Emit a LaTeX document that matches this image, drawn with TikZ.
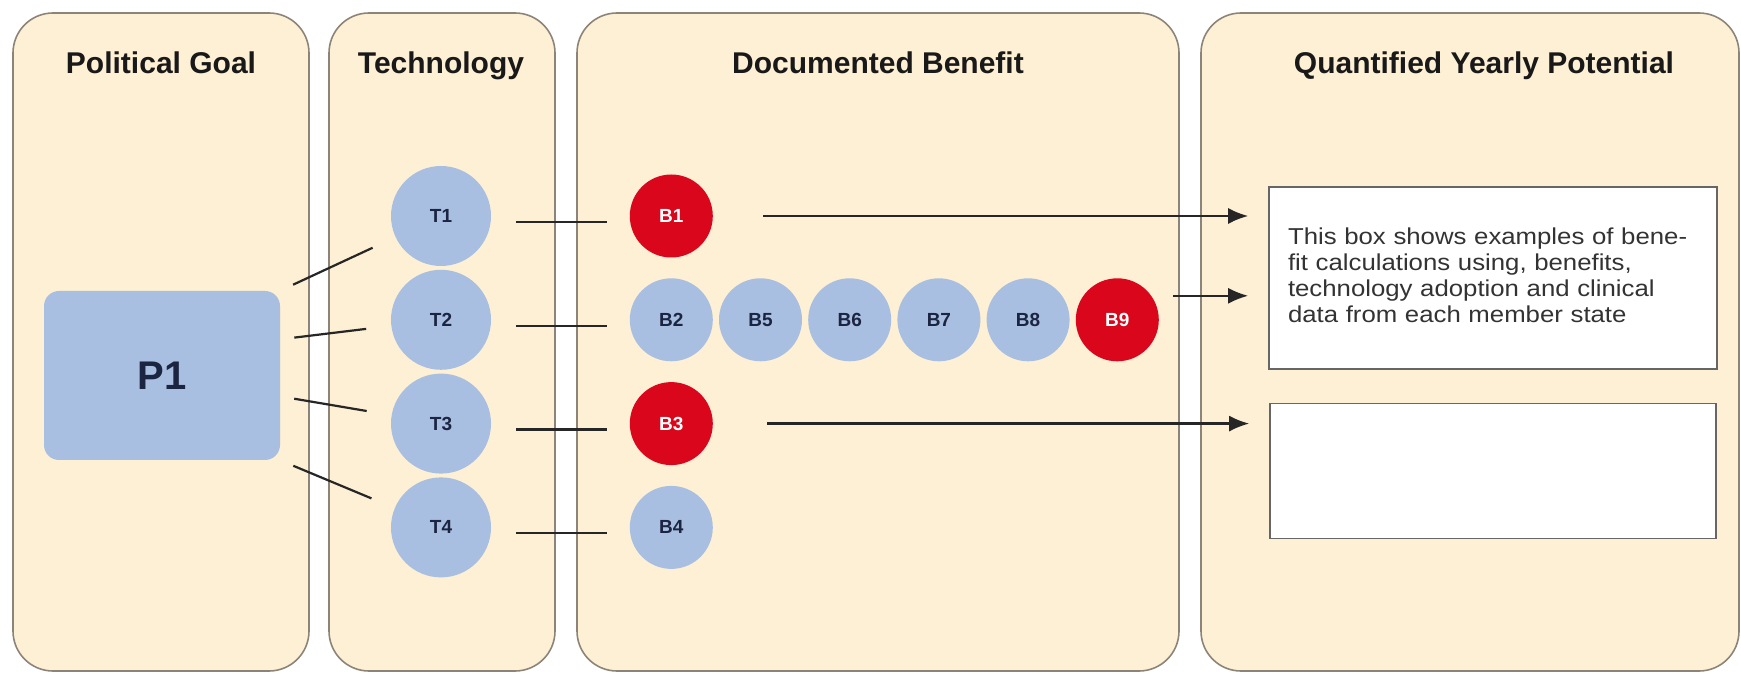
\documentclass[tikz,border=0pt]{standalone}
\usepackage{fontspec}
\setmainfont{Liberation Sans}
\newfontfamily\boxfont[FakeStretch=1.12]{Liberation Sans}
\usepackage{xcolor}
\usetikzlibrary{positioning,arrows.meta}

\definecolor{panelfill}{HTML}{FDF0D4}
\definecolor{panelline}{HTML}{8C8478}
\definecolor{techblue}{HTML}{A9BFE2}
\definecolor{benefitred}{HTML}{D9061C}
\definecolor{labelnavy}{HTML}{1B2440}

\begin{document}
\begin{tikzpicture}[x=0.5pt, y=-0.5pt,
		  panel/.style={draw=panelline, fill=panelfill, line width=0.8pt, rounded corners=20pt},
		  heading/.style={anchor=base, font=\bfseries\fontsize{15}{18}\selectfont, text=black!90},
		  goalbox/.style={fill=techblue, rounded corners=7.5pt, minimum width=118pt, minimum height=84.5pt, font=\bfseries\fontsize{20}{24}\selectfont, text=labelnavy},
		  techcirc/.style={circle, fill=techblue, minimum size=50pt, inner sep=0pt, font=\bfseries\fontsize{9.5}{11}\selectfont, text=labelnavy},
		  bencirc/.style={circle, fill=techblue, minimum size=41.5pt, inner sep=0pt, font=\bfseries\fontsize{9.5}{11}\selectfont, text=labelnavy},
		  redcirc/.style={bencirc, fill=benefitred, text=white},
		  link/.style={draw=black!85, line width=1.1pt},
		  arrow/.style={link, -{Latex[length=10pt,width=8pt]}},
		  calcbox/.style={draw=black!60, fill=white, line width=0.8pt, minimum width=224pt, inner xsep=9.5pt, align=left, font=\boxfont\fontsize{11.5}{13}\selectfont, text=black!80}]
		\useasboundingbox (0,0) rectangle (1741,673);
		\draw[panel] (13,13) rectangle (309,671);
		\draw[panel] (329,13) rectangle (555,671);
		\draw[panel] (577,13) rectangle (1179,671);
		\draw[panel] (1201,13) rectangle (1739,671);
		\node[heading] (goalhead) at (161,74) {Political Goal};
		\node[heading] (techhead) at (441,74) {Technology};
		\node[heading] (benhead) at (878,74) {Documented Benefit};
		\node[heading] (pothead) at (1484,74) {Quantified Yearly Potential};

		\node[goalbox] (P1) at (162,375.5) {P1};

		\node[techcirc] (T1) at (441,216) {T1};
		\node[techcirc, below=1.5pt of T1] (T2) {T2};
		\node[techcirc, below=1.5pt of T2] (T3) {T3};
		\node[techcirc, below=1.5pt of T3] (T4) {T4};

		\node[redcirc, right=69pt of T1] (B1) {B1};
		\node[bencirc, right=69pt of T2] (B2) {B2};
		\node[redcirc, right=69pt of T3] (B3) {B3};
		\node[bencirc, right=69pt of T4] (B4) {B4};
		\node[bencirc, right=2.7pt of B2] (B5) {B5};
		\node[bencirc, right=2.7pt of B5] (B6) {B6};
		\node[bencirc, right=2.7pt of B6] (B7) {B7};
		\node[bencirc, right=2.7pt of B7] (B8) {B8};
		\node[redcirc, right=2.7pt of B8] (B9) {B9};

		\node[calcbox, minimum height=91pt, text width=205pt] (box1) at (1493,278)
		  {\\[-7pt]This box shows examples of bene-\\fit calculations using, benefits,\\technology adoption and clinical\\data from each member state\\[6pt]};
		\node[calcbox, minimum height=67.5pt, minimum width=223pt, below=16.5pt of box1] (box2) {};

		\draw[link, shorten <=7pt, shorten >=12.5pt] (P1.north east) -- (T1);
		\draw[link, shorten <=7pt, shorten >=12.5pt] (P1.17) -- (T2);
		\draw[link, shorten <=7pt, shorten >=12.5pt] (P1.-10) -- (T3);
		\draw[link, shorten <=7pt, shorten >=12.5pt] (P1.south east) -- (T4);
		\foreach \i in {1,...,4}
		  \draw[link, shorten <=12.5pt, shorten >=11pt] ([yshift=-3pt]T\i.east) -- ([yshift=-3pt]B\i.west);

		\draw[arrow, shorten <=25pt, shorten >=10pt] (B1.east) -- (B1.east -| box1.west);
		\draw[arrow, shorten <=7pt, shorten >=10pt] ([yshift=12pt]B9.east) -- ([yshift=12pt]B9.east -| box1.west);
		\draw[arrow, shorten <=27pt, shorten >=10pt] (B3.east) -- (B3.east -| box2.west);
\end{tikzpicture}
\end{document}
